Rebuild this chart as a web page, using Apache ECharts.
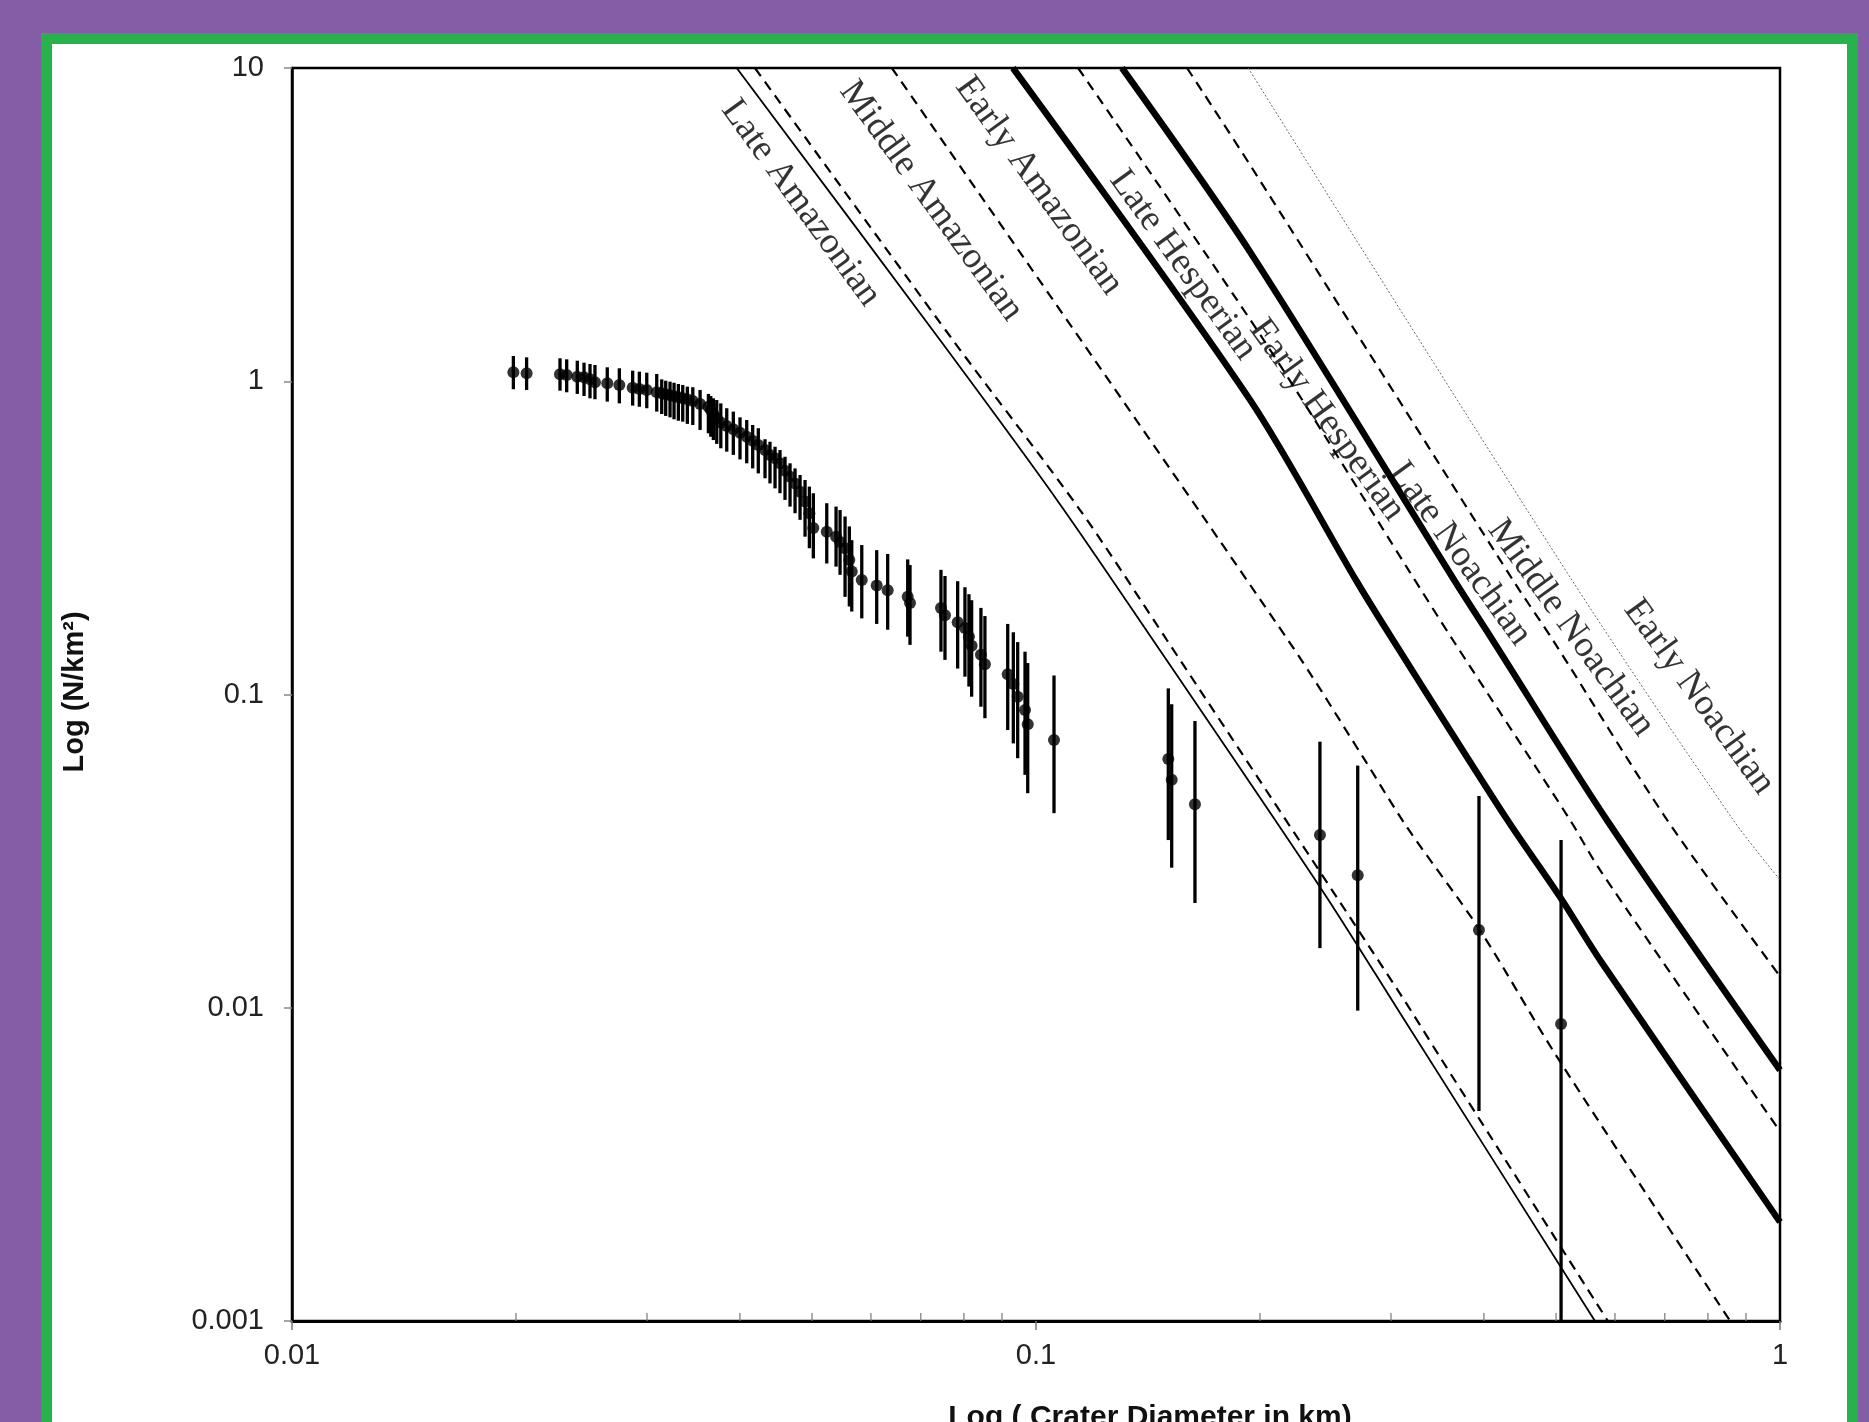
<!DOCTYPE html>
<html>
<head>
<meta charset="utf-8">
<script src="https://cdn.jsdelivr.net/npm/echarts@6/dist/echarts.min.js"></script>
<style>
  html, body { margin: 0; padding: 0; overflow: hidden; background: #835da6; }
  #frame {
    position: absolute; left: 41px; top: 33px; width: 1817px; height: 1450px;
    box-sizing: border-box; border: 11px solid #27b24b; background: #fff;
  }
  #chart { position: absolute; left: 0; top: 0; width: 1869px; height: 1422px; }
</style>
</head>
<body>
<div id="frame"></div>
<div id="chart"></div>
<script>
// crater size-frequency data (cumulative density with error bars)
const diam = [0.01984, 0.02067, 0.02292, 0.02340, 0.02418, 0.02469, 0.02515, 0.02554, 0.02653, 0.02754,
  0.02870, 0.02930, 0.02998, 0.03092, 0.03140, 0.03179, 0.03222, 0.03262, 0.03306, 0.03351,
  0.03399, 0.03457, 0.03536, 0.03628, 0.03655, 0.03684, 0.03723, 0.03770, 0.03840, 0.03919,
  0.04001, 0.04085, 0.04161, 0.04234, 0.04323, 0.04390, 0.04459, 0.04528, 0.04599, 0.04671,
  0.04744, 0.04818, 0.04893, 0.04959, 0.05020, 0.05233, 0.05386, 0.05453, 0.05538, 0.05612,
  0.05654, 0.05832, 0.06108, 0.06319, 0.06723, 0.06771, 0.07452, 0.07545, 0.07847, 0.08026,
  0.08126, 0.08194, 0.08433, 0.08538, 0.09162, 0.09322, 0.09449, 0.09666, 0.09747, 0.10573,
  0.15060, 0.15219, 0.16355, 0.24079, 0.27066, 0.39390, 0.50784];
const density = [1.068, 1.060, 1.052, 1.047, 1.034, 1.030, 1.014, 0.992, 0.985, 0.973,
  0.954, 0.945, 0.938, 0.922, 0.915, 0.909, 0.902, 0.895, 0.889, 0.882,
  0.876, 0.865, 0.846, 0.829, 0.810, 0.786, 0.762, 0.738, 0.720, 0.703,
  0.685, 0.665, 0.646, 0.626, 0.603, 0.582, 0.568, 0.547, 0.518, 0.496,
  0.472, 0.444, 0.413, 0.379, 0.340, 0.331, 0.319, 0.307, 0.293, 0.269,
  0.247, 0.232, 0.223, 0.215, 0.205, 0.196, 0.189, 0.179, 0.170, 0.163,
  0.153, 0.143, 0.134, 0.125, 0.116, 0.108, 0.0984, 0.0892, 0.0803, 0.0716,
  0.0622, 0.0534, 0.0446, 0.0356, 0.0265, 0.0177, 0.00887];
const errHigh = [1.204, 1.192, 1.184, 1.175, 1.163, 1.146, 1.135, 1.127, 1.108, 1.100,
  1.081, 1.073, 1.065, 1.055, 1.014, 1.004, 0.997, 0.989, 0.980, 0.973,
  0.961, 0.957, 0.938, 0.911, 0.897, 0.882, 0.871, 0.850, 0.820, 0.800,
  0.767, 0.752, 0.725, 0.708, 0.653, 0.641, 0.618, 0.603, 0.574, 0.547,
  0.527, 0.502, 0.484, 0.461, 0.439, 0.408, 0.398, 0.388, 0.370, 0.344,
  0.311, 0.300, 0.289, 0.281, 0.270, 0.259, 0.250, 0.239, 0.230, 0.220,
  0.209, 0.200, 0.189, 0.178, 0.168, 0.158, 0.147, 0.137, 0.126, 0.115,
  0.1046, 0.0931, 0.0823, 0.0707, 0.0593, 0.0474, 0.0343];
const errLow = [0.943, 0.938, 0.933, 0.922, 0.911, 0.897, 0.882, 0.876, 0.861, 0.850,
  0.836, 0.829, 0.820, 0.800, 0.786, 0.775, 0.767, 0.756, 0.748, 0.743,
  0.731, 0.725, 0.699, 0.682, 0.665, 0.649, 0.631, 0.611, 0.596, 0.582,
  0.563, 0.547, 0.527, 0.508, 0.490, 0.472, 0.455, 0.439, 0.418, 0.398,
  0.379, 0.361, 0.319, 0.293, 0.272, 0.262, 0.256, 0.241, 0.205, 0.191,
  0.184, 0.175, 0.168, 0.161, 0.153, 0.144, 0.137, 0.129, 0.121, 0.114,
  0.106, 0.0984, 0.0914, 0.0840, 0.0770, 0.0698, 0.0626, 0.0554, 0.0484, 0.0418,
  0.0343, 0.0280, 0.0216, 0.0155, 0.00979, 0.00468, 0.001];

// isochron curves: diameter (km) / cumulative density pairs
const iso1D = [0.0396, 0.0743, 0.1067, 0.1437, 0.2408, 0.3085, 0.564];
const iso1N = [10, 1.354, 0.418, 0.149, 0.0243, 0.00962, 0.001];
const iso2D = [0.0419, 0.0773, 0.1146, 0.150, 0.3085, 0.349, 0.587];
const iso2N = [10, 1.354, 0.388, 0.149, 0.0111, 0.00697, 0.001];
const iso3D = [0.0640, 0.2195, 0.275, 0.315, 0.395, 0.5015, 0.857];
const iso3N = [10, 0.146, 0.0632, 0.0378, 0.0177, 0.00697, 0.001];
const iso4D = [0.0931, 0.194, 0.270, 0.302, 0.430, 0.506, 0.573, 1];
const iso4N = [10, 0.871, 0.229, 0.149, 0.0398, 0.0226, 0.0142, 0.00207];
const iso5D = [0.1139, 0.2019, 0.318, 0.3635, 0.522, 0.573, 1];
const iso5N = [10, 1.364, 0.246, 0.149, 0.0398, 0.0275, 0.00403];
const iso6D = [0.1305, 0.194, 0.366, 0.411, 0.585, 1];
const iso6N = [10, 2.586, 0.229, 0.149, 0.0398, 0.00632];
const iso7D = [0.1596, 0.194, 0.439, 0.4953, 0.705, 1];
const iso7N = [10, 4.90, 0.229, 0.149, 0.0398, 0.0126];
const iso8D = [0.1928, 0.527, 0.865, 1];
const iso8N = [10, 0.229, 0.0398, 0.0256];

// epoch labels placed between the isochrons
const epochNames = ['Late Amazonian', 'Middle Amazonian', 'Early Amazonian', 'Late Hesperian',
  'Early Hesperian', 'Late Noachian', 'Middle Noachian', 'Early Noachian'];
const epochLabelD = [0.0483, 0.0723, 0.1009, 0.1576, 0.2461, 0.3715, 0.5236, 0.7783];
const epochLabelN = [3.707, 3.762, 4.201, 2.350, 0.752, 0.281, 0.163, 0.0982];

// axis ticks
const xTickLabels = ['0.01', '0.1', '1'];
const yTickLabels = ['0.001', '0.01', '0.1', '1', '10'];
const xMinorTicks = [0.02, 0.03, 0.04, 0.05, 0.06, 0.07, 0.08, 0.09, 0.2, 0.3, 0.4, 0.5, 0.6, 0.7, 0.8, 0.9];

const zip = (a, b) => a.map((v, i) => [v, b[i]]);

const chart = echarts.init(document.getElementById('chart'), null, { renderer: 'canvas' });

function isoSeries(d, n, style) {
  return {
    type: 'line', data: zip(d, n), showSymbol: false, silent: true,
    smooth: 0.3,
    lineStyle: Object.assign({ color: '#000' }, style), z: 2
  };
}

const option = {
  backgroundColor: 'transparent',
  animation: false,
  grid: { left: 292, right: 89, top: 68, bottom: 101, show: true, borderColor: '#000', borderWidth: 2.5 },
  xAxis: {
    type: 'log', logBase: 10, min: 0.01, max: 1,
    axisLine: { lineStyle: { color: '#000', width: 3 } },
    axisTick: { show: true, length: 9, lineStyle: { color: '#777', width: 1.5 } },
    axisLabel: {
      margin: 20, fontFamily: 'Liberation Sans, Arial', fontSize: 29, color: '#222',
      formatter: v => xTickLabels[Math.round(Math.log10(v)) + 2]
    },
    splitLine: { show: false }
  },
  yAxis: {
    type: 'log', logBase: 10, min: 0.001, max: 10,
    axisLine: { lineStyle: { color: '#000', width: 2.5 } },
    axisTick: { show: true, length: 8, lineStyle: { color: '#888', width: 1.5 } },
    axisLabel: {
      margin: 28, fontFamily: 'Liberation Sans, Arial', fontSize: 29, color: '#222',
      formatter: v => yTickLabels[Math.round(Math.log10(v)) + 3]
    },
    splitLine: { show: false }
  },
  graphic: [
    {
      type: 'text', x: 75, y: 692, rotation: Math.PI / 2,
      style: {
        text: 'Log (N/km²)', font: 'bold 29px "Liberation Sans", Arial',
        fill: '#111', align: 'center', verticalAlign: 'middle'
      }
    },
    {
      type: 'text', x: 1150, y: 1418,
      style: {
        text: 'Log ( Crater Diameter in km)', font: 'bold 30px "Liberation Sans", Arial',
        fill: '#111', align: 'center', verticalAlign: 'middle'
      }
    }
  ],
  series: [
    isoSeries(iso1D, iso1N, { width: 1.8, type: 'solid' }),
    isoSeries(iso2D, iso2N, { width: 2.2, type: [10, 7] }),
    isoSeries(iso3D, iso3N, { width: 2.2, type: [10, 7] }),
    isoSeries(iso4D, iso4N, { width: 6.5, type: 'solid' }),
    isoSeries(iso5D, iso5N, { width: 2.2, type: [10, 7] }),
    isoSeries(iso6D, iso6N, { width: 6.5, type: 'solid' }),
    isoSeries(iso7D, iso7N, { width: 2.2, type: [10, 7] }),
    isoSeries(iso8D, iso8N, { width: 1, type: [2, 2], color: '#666' }),
    {
      // error bars
      type: 'custom',
      data: diam.map((d, i) => [d, errLow[i], errHigh[i]]),
      encode: { x: 0, y: [1, 2] },
      renderItem: (params, api) => {
        const top = api.coord([api.value(0), api.value(2)]);
        const bot = api.coord([api.value(0), api.value(1)]);
        return {
          type: 'line',
          shape: { x1: top[0], y1: top[1], x2: bot[0], y2: bot[1] },
          style: { stroke: '#000', lineWidth: 3.3 }
        };
      },
      z: 3
    },
    {
      type: 'scatter', data: zip(diam, density), symbol: 'circle', symbolSize: 12,
      itemStyle: { color: '#000' }, z: 4
    },
    {
      // minor ticks on the diameter axis, pointing inward
      type: 'scatter', data: xMinorTicks.map(t => [t, 0.001]), symbol: 'rect',
      symbolSize: [1.5, 8], symbolOffset: [0, -4], clip: false,
      itemStyle: { color: '#777' }, silent: true, z: 5
    },
    {
      type: 'scatter', symbolSize: 0, silent: true, z: 6,
      data: epochNames.map((name, i) => ({ name, value: [epochLabelD[i], epochLabelN[i]] })),
      label: {
        show: true, position: 'inside', rotate: -54, formatter: p => p.name,
        fontFamily: '"Liberation Serif", "Times New Roman", serif', fontSize: 37, color: '#000'
      }
    }
  ]
};
chart.setOption(option);
</script>
</body>
</html>
